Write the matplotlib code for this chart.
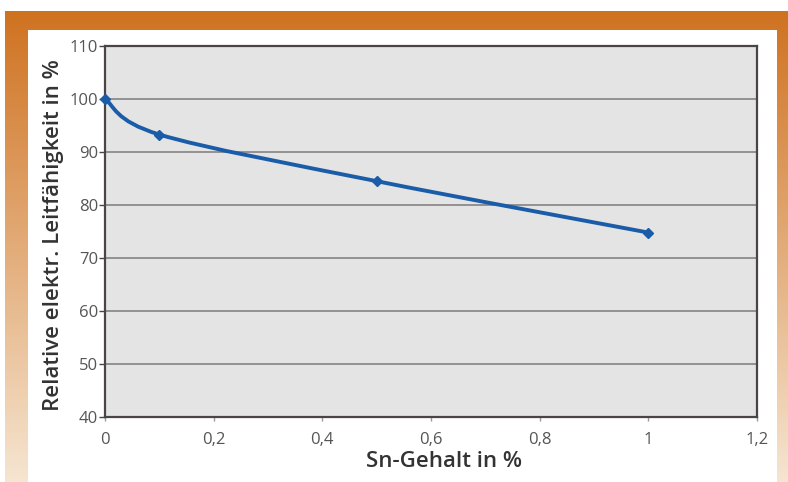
import matplotlib
matplotlib.use("Agg")
import matplotlib.pyplot as plt
from matplotlib.path import Path
from matplotlib.patches import PathPatch, Rectangle
import numpy as np

# data
sn_content = [0.0, 0.1, 0.5, 1.0]
conductivity = [100.0, 93.3, 84.5, 74.8]
x_ticks = [0, 0.2, 0.4, 0.6, 0.8, 1.0, 1.2]
x_labels = ["0", "0,2", "0,4", "0,6", "0,8", "1", "1,2"]
y_ticks = [40, 50, 60, 70, 80, 90, 100, 110]

plt.rcParams['font.family'] = ['Open Sans', 'DejaVu Sans']

W, H = 788, 482
fig = plt.figure(figsize=(W / 100, H / 100), dpi=100)
fig.patch.set_facecolor('white')

# orange frame with vertical gradient
bg = fig.add_axes([0, 0, 1, 1])
bg.set_xlim(0, W)
bg.set_ylim(H, 0)
bg.axis('off')
top_col = np.array([207, 114, 32]) / 255
bot_col = np.array([246, 229, 209]) / 255
t = np.linspace(0, 1, 256)[:, None]
grad = top_col * (1 - t[..., None]) + bot_col * t[..., None]
grad = np.repeat(grad, 2, axis=1)
bg.imshow(grad, extent=[5, W, H, 11], aspect='auto', zorder=0)
bg.add_patch(Rectangle((28, 30), 777 - 28, H - 30, facecolor='white',
                       edgecolor='none', zorder=1))

# plot area
l, r, tp, b = 105, 757, 46, 417
ax = fig.add_axes([l / W, 1 - b / H, (r - l) / W, (b - tp) / H])
ax.set_facecolor('#e4e4e4')
ax.set_xlim(0, 1.2)
ax.set_ylim(40, 110)
ax.set_yticks(y_ticks)
ax.set_xticks(x_ticks)
ax.set_xticklabels(x_labels)
ax.yaxis.grid(True, color='#8c8a8a', linewidth=1.3)
ax.set_axisbelow(True)
for s in ax.spines.values():
    s.set_color('#4a4444')
    s.set_linewidth(1.6)
ax.tick_params(axis='y', length=4, width=1, color='#4a4444', labelsize=12,
               labelcolor='#555555', pad=1)
ax.tick_params(axis='x', length=3, width=1, color='#9a9a9a', labelsize=12,
               labelcolor='#555555', pad=8)

# smoothed line (Catmull-Rom as bezier, like the spreadsheet smoothing)
pts = np.column_stack([sn_content, conductivity])
verts = [tuple(pts[0])]
codes = [Path.MOVETO]
n = len(pts)
for i in range(n - 1):
    p0 = pts[i - 1] if i > 0 else pts[i]
    p1 = pts[i]
    p2 = pts[i + 1]
    p3 = pts[i + 2] if i + 2 < n else pts[i + 1]
    c1 = p1 + (p2 - p0) / 6
    c2 = p2 - (p3 - p1) / 6
    verts += [tuple(c1), tuple(c2), tuple(p2)]
    codes += [Path.CURVE4] * 3
ax.add_patch(PathPatch(Path(verts, codes), facecolor='none',
                       edgecolor='#1a5ca8', linewidth=2.8, zorder=3,
                       clip_on=False))
ax.plot(sn_content, conductivity, linestyle='none', marker='D', markersize=5,
        color='#1a5ca8', zorder=4, clip_on=False)

ax.set_xlabel('Sn-Gehalt in %', fontsize=16, fontweight='semibold',
              color='#333333', labelpad=2)
ax.xaxis.label.set_x(0.52)
ax.set_ylabel('Relative elektr. Leitfähigkeit in %', fontsize=16,
              fontweight='semibold', color='#333333', labelpad=4)
ax.yaxis.label.set_y(0.49)

fig.savefig('out.png', dpi=100)
